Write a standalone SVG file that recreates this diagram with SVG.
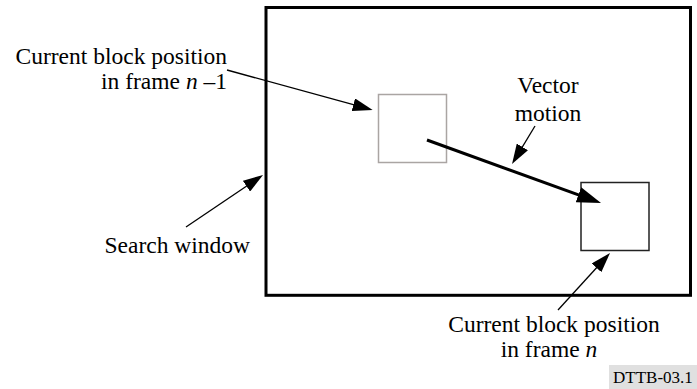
<svg xmlns="http://www.w3.org/2000/svg" width="697" height="389" viewBox="0 0 697 389">
  <style>
    .lbl { font-family: "Liberation Serif", "Times New Roman", serif; font-size: 23.5px; fill: #000; }
    .ref { font-family: "Liberation Serif", "Times New Roman", serif; font-size: 17px; fill: #000; }
    .thin { stroke: #000; stroke-width: 1.3; fill: none; marker-end: url(#headThin); }
    .thick { stroke: #000; stroke-width: 3; fill: none; marker-end: url(#headThick); }
  </style>
  <defs>
    <marker id="headThin" markerUnits="userSpaceOnUse" markerWidth="20" markerHeight="13" refX="16" refY="6.5" orient="auto">
      <path d="M0,0 L20,6.5 L0,13 z" fill="#000"/>
    </marker>
    <marker id="headThick" markerUnits="userSpaceOnUse" markerWidth="24" markerHeight="16" refX="14" refY="8" orient="auto">
      <path d="M0,0 L24,8 L0,16 z" fill="#000"/>
    </marker>
  </defs>

  <rect width="697" height="389" fill="#fff"/>

  <!-- search window -->
  <g id="search-window">
    <rect x="266" y="7.5" width="424.5" height="287.8" fill="none" stroke="#000" stroke-width="3"/>
  </g>

  <!-- block in previous frame -->
  <g id="block-prev">
    <rect x="378.5" y="94.5" width="68" height="68" fill="none" stroke="#aaa5a3" stroke-width="1.5"/>
  </g>

  <!-- block in current frame -->
  <g id="block-curr">
    <rect x="581" y="182.5" width="68" height="68" fill="none" stroke="#222" stroke-width="1.5"/>
  </g>

  <!-- labels -->
  <g id="label-prev">
    <text class="lbl" x="227" y="64" text-anchor="end">Current block position</text>
    <text class="lbl" x="227" y="89" text-anchor="end">in frame <tspan font-style="italic">n</tspan> –1</text>
  </g>
  <g id="label-vector">
    <text class="lbl" x="548" y="93" text-anchor="middle">Vector</text>
    <text class="lbl" x="548" y="121" text-anchor="middle">motion</text>
  </g>
  <g id="label-window">
    <text class="lbl" x="250" y="253" text-anchor="end">Search window</text>
  </g>
  <g id="label-curr">
    <text class="lbl" x="554" y="332" text-anchor="middle">Current block position</text>
    <text class="lbl" x="549" y="357" text-anchor="middle">in frame <tspan font-style="italic">n</tspan></text>
  </g>
  <g id="tag">
    <rect x="609" y="365" width="88" height="24" fill="#e0e0e0"/>
    <text class="ref" x="613" y="383">DTTB-03.1</text>
  </g>

  <!-- connectors -->
  <g id="connectors">
    <line class="thin" x1="227" y1="70" x2="368.8" y2="108.9"/>
    <line class="thin" x1="535" y1="126" x2="514.1" y2="160.6"/>
    <line class="thin" x1="186" y1="227" x2="259.7" y2="177.2"/>
    <line class="thin" x1="558" y1="310" x2="607.3" y2="256"/>
    <line class="thick" x1="427" y1="140" x2="591.6" y2="199.6"/>
  </g>
</svg>
